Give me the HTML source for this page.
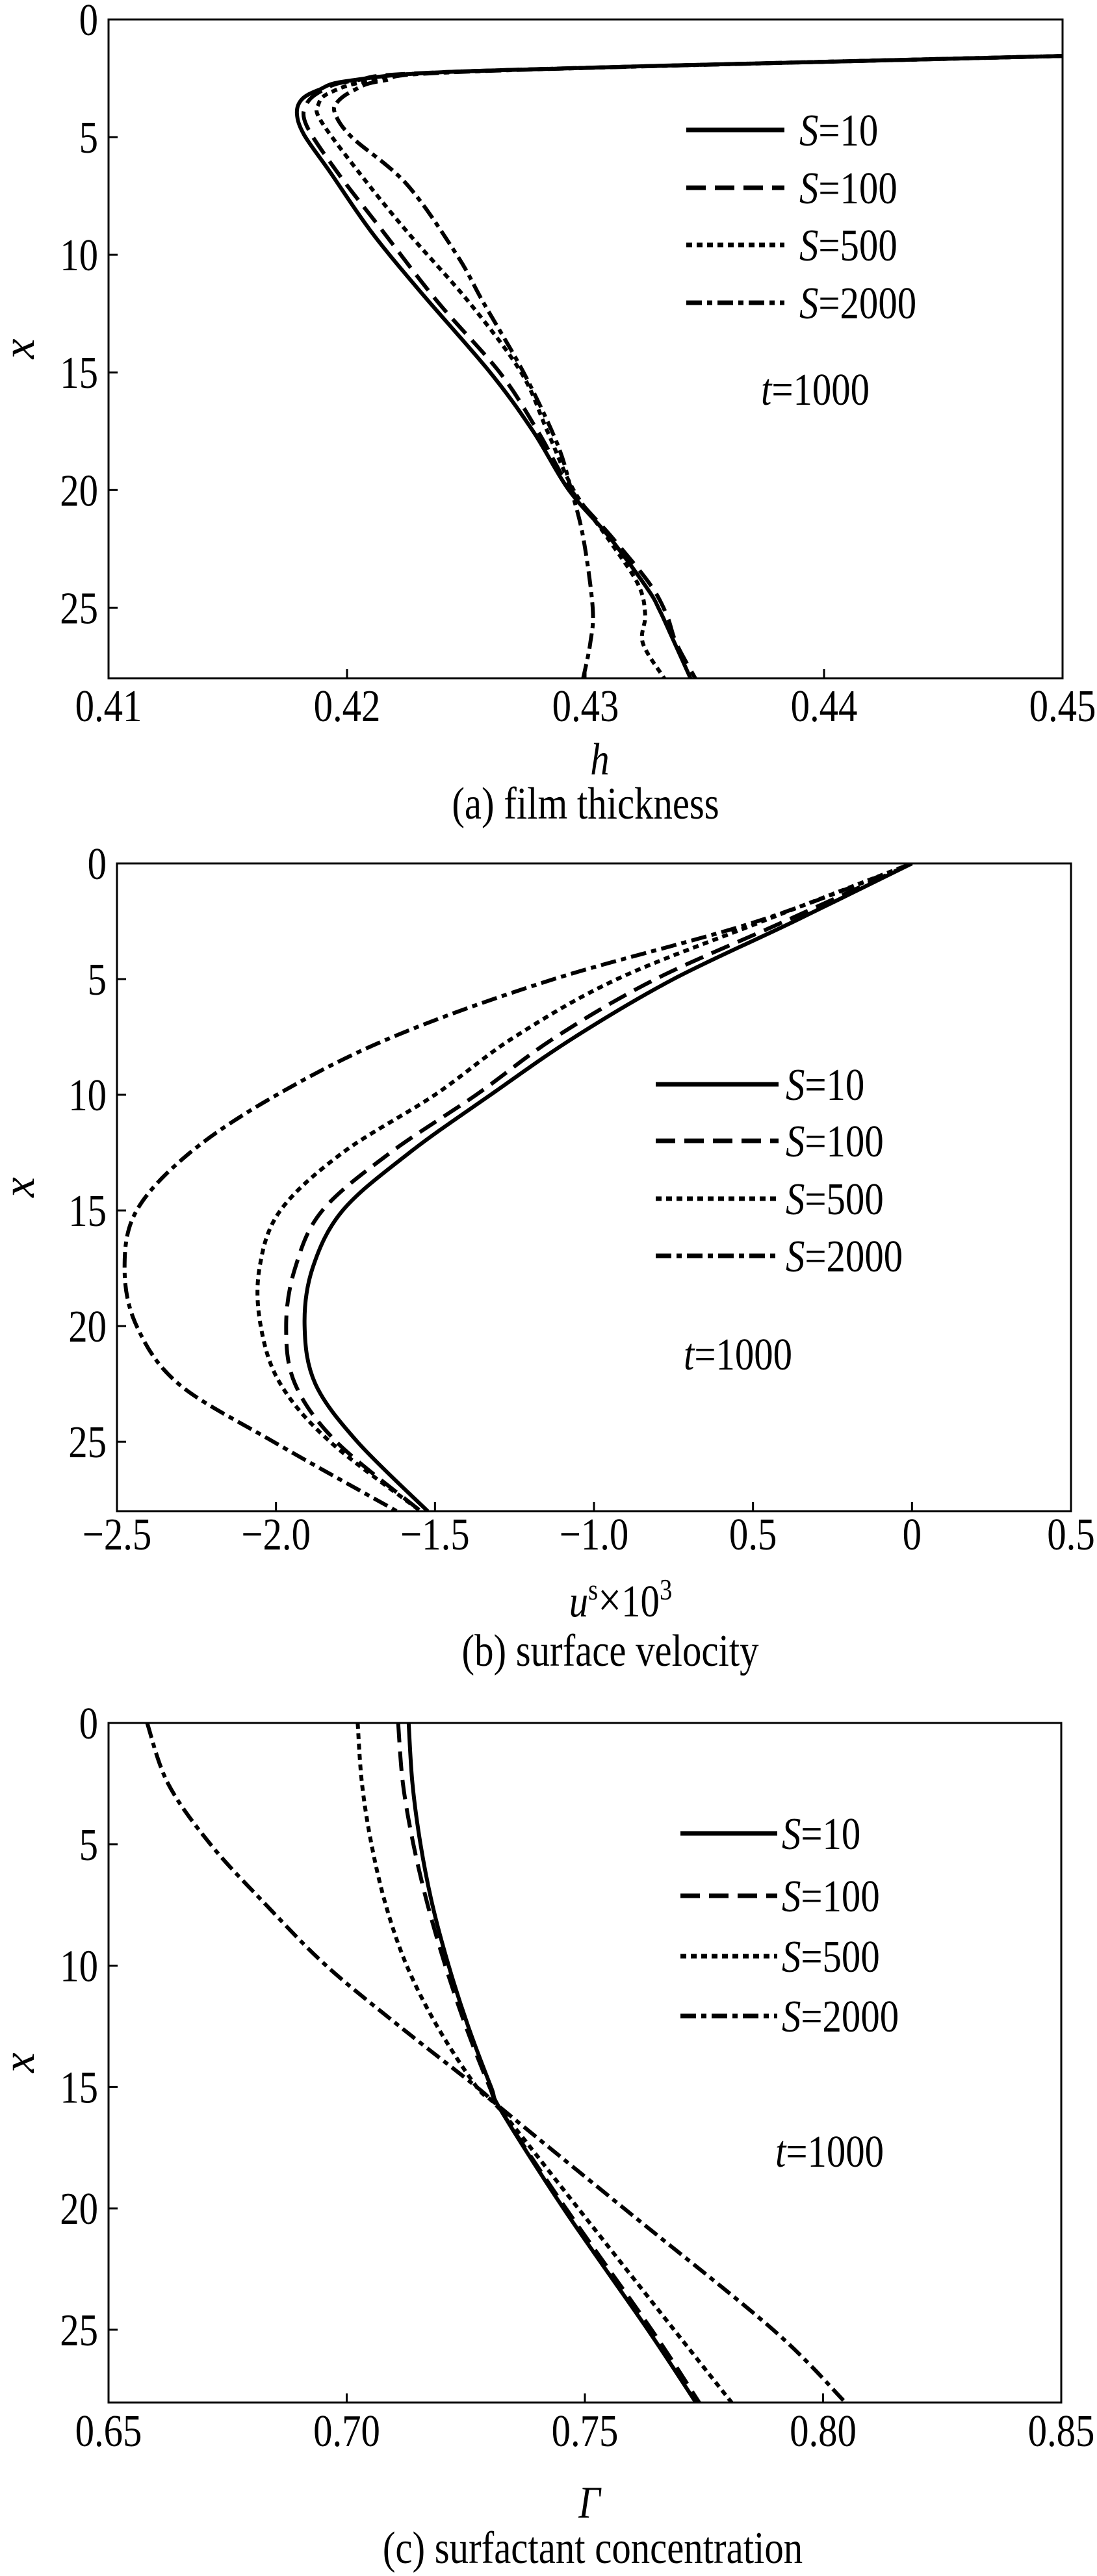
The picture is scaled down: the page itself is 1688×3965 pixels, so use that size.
<!DOCTYPE html>
<html><head><meta charset="utf-8"><style>
html,body{margin:0;padding:0;background:#fff}
svg{display:block}
text{font-family:"Liberation Serif",serif;fill:#000}
</style></head><body>
<svg id="fig" xmlns="http://www.w3.org/2000/svg" width="1688" height="3965" viewBox="0 0 1688 3965"></svg>
<script>
// ---------- Data ----------
const seriesNames = ["S=10","S=100","S=500","S=2000"];
const seriesLabelVal = ["10","100","500","2000"];
// Panel (a): film thickness h vs x
const aX10 = [1.55,1.8,2.2,2.6,3.0,3.4,4.0,4.9,6.5,9,11.6,15,17.5,20,22,24.2,25.1,26.2,28];
const aH10 = [0.45,0.44,0.4249,0.4201,0.4188,0.4181,0.4179,0.4182,0.4193,0.421,0.4231,0.426,0.4278,0.4293,0.431,0.4326,0.4331,0.4336,0.4344];
const aX100 = [1.55,2.2,2.6,3.0,3.6,4.5,6.5,9,12,15,17.5,20,22,24,25.3,26.5,28];
const aH100 = [0.45,0.425,0.4203,0.419,0.4183,0.4183,0.4196,0.4215,0.4238,0.4264,0.428,0.4294,0.4311,0.4327,0.4334,0.4338,0.4346];
const aX500 = [1.55,2.2,2.6,3.1,3.6,4.3,6.5,9,12,15,17.5,20,22,24,25.3,26.5,28];
const aH500 = [0.45,0.4252,0.421,0.4193,0.4188,0.4189,0.4205,0.4225,0.4251,0.4273,0.4284,0.4295,0.4309,0.4322,0.4325,0.4324,0.4333];
const aX2000 = [1.55,2.2,2.6,3.0,3.5,4.0,5,7,10,12,15,18,20,22,25,26.5,28];
const aH2000 = [0.45,0.4255,0.4215,0.4203,0.4196,0.4195,0.4202,0.4225,0.4246,0.4257,0.4274,0.4288,0.4294,0.4299,0.4303,0.4302,0.4299];
// Panel (b): surface velocity u^s x 10^3 vs x
const bX = [0,2.5,5,7.5,10,12.5,15,17.5,20,22.5,25,28];
const bU10 = [0,-0.37,-0.75,-1.06,-1.325,-1.58,-1.79,-1.885,-1.91,-1.876,-1.744,-1.523];
const bU100 = [0,-0.40,-0.806,-1.12,-1.37,-1.64,-1.854,-1.94,-1.968,-1.94,-1.81,-1.545];
const bU500 = [0,-0.47,-0.927,-1.25,-1.5,-1.79,-1.986,-2.052,-2.048,-1.986,-1.83,-1.545];
const bU2000 = [0,-0.486,-1.126,-1.633,-1.997,-2.27,-2.438,-2.476,-2.438,-2.306,-2.008,-1.62];
// Panel (c): surfactant concentration Gamma vs x
const cX = [0,2.5,5,7.5,10,12.5,15,16,20,25,28];
const cG10 = [0.713,0.7138,0.7155,0.718,0.7214,0.7255,0.7303,0.7325,0.7455,0.7632,0.7733];
const cG100 = [0.7108,0.7118,0.714,0.717,0.7207,0.725,0.730,0.7325,0.746,0.764,0.774];
const cG500 = [0.7023,0.7032,0.7052,0.7082,0.7126,0.719,0.7273,0.7325,0.7486,0.7687,0.7808];
const cG2000 = [0.6581,0.6625,0.6714,0.6831,0.6957,0.7111,0.7273,0.7332,0.7582,0.7895,0.8047];
// Ticks
const yTicks = [0,5,10,15,20,25];
const aXTicks = [0.41,0.42,0.43,0.44,0.45];
const aXTickLabels = ["0.41","0.42","0.43","0.44","0.45"];
const bXTicks = [-2.5,-2.0,-1.5,-1.0,-0.5,0,0.5];
const bXTickLabels = ["\u22122.5","\u22122.0","\u22121.5","\u22121.0","0.5","0","0.5"];
const cXTicks = [0.65,0.70,0.75,0.80,0.85];
const cXTickLabels = ["0.65","0.70","0.75","0.80","0.85"];

// ---------- Rendering ----------
const NS = "http://www.w3.org/2000/svg";
const svg = document.getElementById("fig");
const FS = 70, SX = 0.84;
function mk(tag, attrs, parent){ const e=document.createElementNS(NS,tag); for(const k in attrs) e.setAttribute(k,attrs[k]); (parent||svg).appendChild(e); return e; }
function txt(x,y,anchor,parent,extra){
  const a={x:0,y:0,"font-size":FS,"text-anchor":anchor||"start",transform:"translate("+x+","+y+") scale("+SX+",1)"};
  if(extra) for(const k in extra) a[k]=extra[k];
  return mk("text",a,parent);
}
const dashes = ["", "30 14", "9 7", "24 8 8 8"];
function smooth(P){
  let d="M"+P[0][0].toFixed(1)+","+P[0][1].toFixed(1);
  for(let i=0;i<P.length-1;i++){
    const p0=P[Math.max(0,i-1)],p1=P[i],p2=P[i+1],p3=P[Math.min(P.length-1,i+2)];
    const c1=[p1[0]+(p2[0]-p0[0])/6,p1[1]+(p2[1]-p0[1])/6];
    const c2=[p2[0]-(p3[0]-p1[0])/6,p2[1]-(p3[1]-p1[1])/6];
    d+=" C"+c1[0].toFixed(1)+","+c1[1].toFixed(1)+" "+c2[0].toFixed(1)+","+c2[1].toFixed(1)+" "+p2[0].toFixed(1)+","+p2[1].toFixed(1);
  }
  return d;
}

function panel(cfg){
  const g = mk("g",{});
  
  
  const sx = v => cfg.L + (v-cfg.xmin)/(cfg.xmax-cfg.xmin)*(cfg.R-cfg.L);
  const sy = v => cfg.T + v/28*(cfg.B-cfg.T);
  const cp = mk("clipPath",{id:cfg.clip},svg);
  mk("rect",{x:cfg.L,y:cfg.T,width:cfg.R-cfg.L,height:cfg.B-cfg.T},cp);
  cfg.series.forEach((s,i)=>{
    const P = s.xs.map((x,j)=>[sx(s.vs[j]),sy(x)]);
    const p = mk("path",{d:smooth(P),fill:"none",stroke:"#000","stroke-width":6,"stroke-linejoin":"round","clip-path":"url(#"+cfg.clip+")"},g);
    if(dashes[i]) p.setAttribute("stroke-dasharray",dashes[i]);
    
    
  });
  const fr = mk("rect",{x:cfg.L,y:cfg.T,width:cfg.R-cfg.L,height:cfg.B-cfg.T,fill:"none",stroke:"#000","stroke-width":3},g);
  
  
  yTicks.forEach(t=>{
    const y=sy(t);
    if(t>0){ const tk=mk("line",{x1:cfg.L,x2:cfg.L+14,y1:y,y2:y,stroke:"#000","stroke-width":3},g);
        }
    const tl=txt(cfg.L-16,y+24,"end",g);
    tl.textContent=String(t);
    
    
  });
  cfg.xt.forEach((t,k)=>{
    const x=sx(t);
    if(k>0 && k<cfg.xt.length-1){ const tk=mk("line",{x1:x,x2:x,y1:cfg.B,y2:cfg.B-14,stroke:"#000","stroke-width":3},g);
        }
    const tl=txt(x,cfg.tickBase,"middle",g);
    tl.textContent=cfg.xtl[k];
    
    
  });
  const yt=mk("text",{x:0,y:0,"font-size":FS,"font-style":"italic","text-anchor":"middle",transform:"translate(52,"+((cfg.T+cfg.B)/2)+") rotate(-90)"},g);
  yt.textContent="x";
  
  
  const xt=txt(cfg.xtx,cfg.xtBase,"middle",g);
  xt.innerHTML=cfg.xtitle;
  
  
  const cap=txt(cfg.capx,cfg.capBase,"middle",g);
  cap.textContent=cfg.caption;
  
  
  cfg.legY.forEach((ly,i)=>{
    const ln=mk("line",{x1:cfg.legX1,x2:cfg.legX2,y1:ly,y2:ly,stroke:"#000","stroke-width":7},g);
    if(dashes[i]) ln.setAttribute("stroke-dasharray",dashes[i]);
    
    
    const lt=txt(cfg.legTX,ly+24,"start",g);
    lt.innerHTML='<tspan font-style="italic">S</tspan>='+seriesLabelVal[i];
    
    
  });
  const tt=txt(cfg.tX,cfg.tBase,"start",g);
  tt.innerHTML='<tspan font-style="italic">t</tspan>=1000';
  
  
}

panel({name:"panel-film-thickness",clip:"ca",L:167,R:1635,T:30,B:1044,xmin:0.41,xmax:0.45,
  xt:aXTicks,xtl:aXTickLabels,tickBase:1110,
  xtitle:'<tspan font-style="italic">h</tspan>',xtx:923,xtBase:1192,
  caption:"(a) film thickness",capx:901,capBase:1260,
  legX1:1056,legX2:1207,legTX:1230,legY:[200,289,377,466],tX:1171,tBase:623,
  series:[{xs:aX10,vs:aH10},{xs:aX100,vs:aH100},{xs:aX500,vs:aH500},{xs:aX2000,vs:aH2000}]});

panel({name:"panel-surface-velocity",clip:"cb",L:180,R:1648,T:1329,B:2326,xmin:-2.5,xmax:0.5,
  xt:bXTicks,xtl:bXTickLabels,tickBase:2385,
  xtitle:'<tspan font-style="italic">u</tspan><tspan font-size="46" dy="-26">s</tspan><tspan dy="26" font-size="76">×</tspan><tspan>10</tspan><tspan font-size="46" dy="-26">3</tspan>',xtx:955,xtBase:2488,
  caption:"(b) surface velocity",capx:939,capBase:2564,
  legX1:1009,legX2:1198,legTX:1209,legY:[1669,1756,1845,1933],tX:1052,tBase:2108,
  series:[{xs:bX,vs:bU10},{xs:bX,vs:bU100},{xs:bX,vs:bU500},{xs:bX,vs:bU2000}]});

panel({name:"panel-surfactant-concentration",clip:"cc",L:167,R:1633,T:2652,B:3698,xmin:0.65,xmax:0.85,
  xt:cXTicks,xtl:cXTickLabels,tickBase:3765,
  xtitle:'<tspan font-style="italic">Γ</tspan>',xtx:907,xtBase:3875,
  caption:"(c) surfactant concentration",capx:912,capBase:3945,
  legX1:1047,legX2:1196,legTX:1203,legY:[2822,2918,3011,3103],tX:1193,tBase:3335,
  series:[{xs:cX,vs:cG10},{xs:cX,vs:cG100},{xs:cX,vs:cG500},{xs:cX,vs:cG2000}]});
</script>
</body></html>
